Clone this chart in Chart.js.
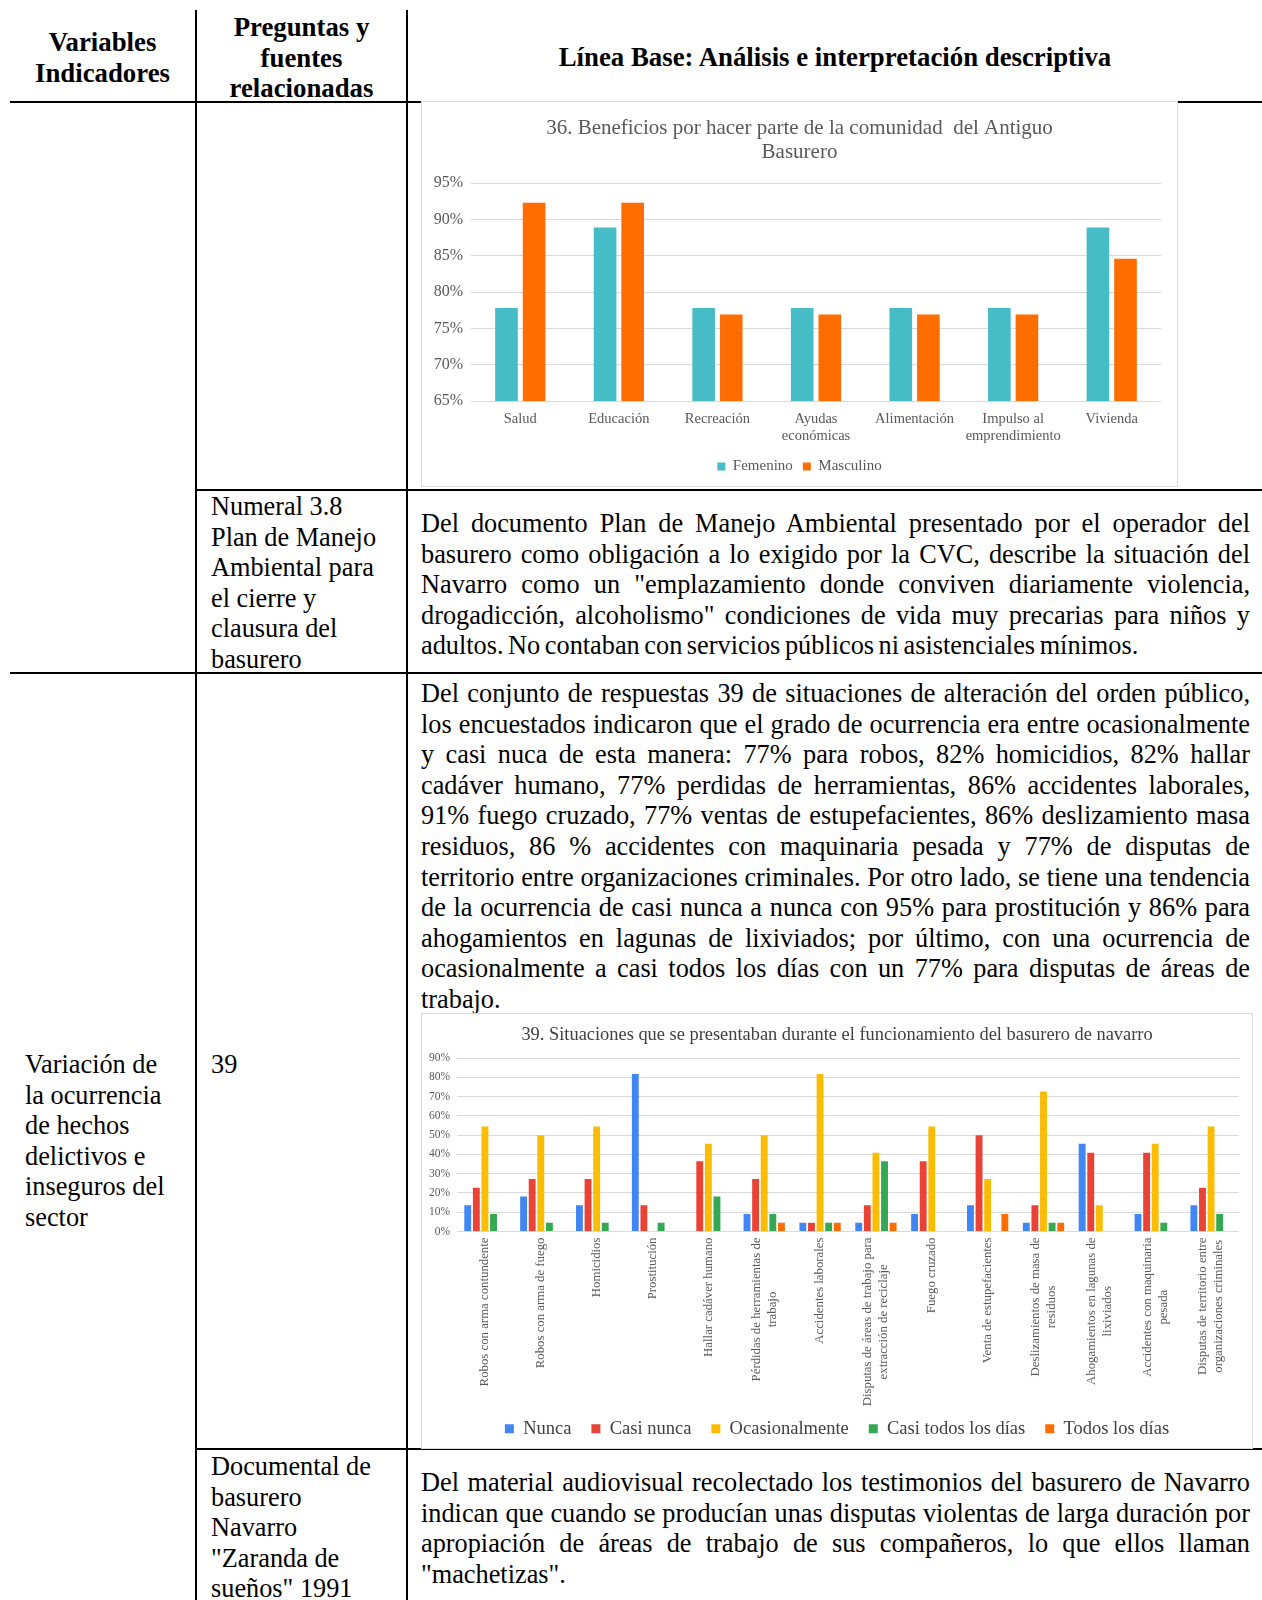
<!DOCTYPE html>
<html lang="es">
<head>
<meta charset="utf-8">
<title>Línea Base</title>
<script src="https://cdn.jsdelivr.net/npm/chart.js@4.4.1/dist/chart.umd.min.js"></script>
<style>
  body { margin: 0; width: 1262px; height: 1600px; position: relative; overflow: hidden; background: #fff;
         font-family: "Liberation Serif", "Times New Roman", serif; color: #000; }
  .hl { position: absolute; height: 2px; background: #000; }
  .vl { position: absolute; width: 2px; background: #000; }
  .txt { position: absolute; font-size: 26.3px; line-height: 30.6px; }
  .hd { font-weight: bold; text-align: center; font-size: 26.8px; }
  .par { position: absolute; left: 421px; width: 829px; font-size: 26.3px; line-height: 30.6px; }
  .par div { text-align: justify; text-align-last: justify; }
  .par div.last { text-align-last: left; }
  .box { position: absolute; background: #fff; border: 1px solid #d9d9d9; }
  canvas { display: block; }
</style>
</head>
<body>

<!-- table rules -->
<div class="vl" style="left:195px; top:10px; height:1590px"></div>
<div class="vl" style="left:406px; top:10px; height:1590px"></div>
<div class="hl" style="left:10px; top:101px; width:1252px"></div>
<div class="hl" style="left:195px; top:489px; width:1067px"></div>
<div class="hl" style="left:10px; top:672px; width:1252px"></div>
<div class="hl" style="left:195px; top:1448px; width:1067px"></div>

<!-- header -->
<div class="txt hd" style="left:10px; width:185px; top:27px">Variables<br>Indicadores</div>
<div class="txt hd" style="left:197px; width:209px; top:12px">Preguntas y<br>fuentes<br>relacionadas</div>
<div class="txt hd" style="left:408px; width:854px; top:42px">Línea Base: Análisis e interpretación descriptiva</div>

<!-- chart 36 -->
<div class="box" style="left:421px; top:101px; width:755px; height:384px">
  <canvas id="beneficios" width="755" height="384"></canvas>
</div>

<!-- row: Numeral 3.8 -->
<div class="txt" style="left:211px; top:492px">Numeral 3.8<br>Plan de Manejo<br>Ambiental para<br>el cierre y<br>clausura del<br>basurero</div>
<div class="par" style="top:509px">
  <div>Del documento Plan de Manejo Ambiental presentado por el operador del</div>
  <div>basurero como obligación a lo exigido por la CVC, describe la situación del</div>
  <div>Navarro como un "emplazamiento donde conviven diariamente violencia,</div>
  <div>drogadicción, alcoholismo" condiciones de vida muy precarias para niños y</div>
  <div class="last" style="word-spacing:-2px">adultos. No contaban con servicios públicos ni asistenciales mínimos.</div>
</div>

<!-- row: 39 -->
<div class="txt" style="left:25px; top:1050px">Variación de<br>la ocurrencia<br>de hechos<br>delictivos e<br>inseguros del<br>sector</div>
<div class="txt" style="left:211px; top:1050px">39</div>
<div class="par" style="top:679px">
  <div>Del conjunto de respuestas 39 de situaciones de alteración del orden público,</div>
  <div>los encuestados indicaron que el grado de ocurrencia era entre ocasionalmente</div>
  <div>y casi nuca de esta manera: 77% para robos, 82% homicidios, 82% hallar</div>
  <div>cadáver humano, 77% perdidas de herramientas, 86% accidentes laborales,</div>
  <div>91% fuego cruzado, 77% ventas de estupefacientes, 86% deslizamiento masa</div>
  <div>residuos, 86 % accidentes con maquinaria pesada y 77% de disputas de</div>
  <div>territorio entre organizaciones criminales. Por otro lado, se tiene una tendencia</div>
  <div>de la ocurrencia de casi nunca a nunca con 95% para prostitución y 86% para</div>
  <div>ahogamientos en lagunas de lixiviados; por último, con una ocurrencia de</div>
  <div>ocasionalmente a casi todos los días con un 77% para disputas de áreas de</div>
  <div class="last">trabajo.</div>
</div>

<!-- chart 39 -->
<div class="box" style="left:421px; top:1013px; width:830px; height:434px">
  <canvas id="situaciones" width="830" height="434"></canvas>
</div>

<!-- row: documental -->
<div class="txt" style="left:211px; top:1452px">Documental de<br>basurero<br>Navarro<br>"Zaranda de<br>sueños" 1991</div>
<div class="par" style="top:1468px">
  <div>Del material audiovisual recolectado los testimonios del basurero de Navarro</div>
  <div>indican que cuando se producían unas disputas violentas de larga duración por</div>
  <div>apropiación de áreas de trabajo de sus compañeros, lo que ellos llaman</div>
  <div class="last">"machetizas".</div>
</div>

<script>
// ===== Chart 36: beneficios =====
const beneficios = ["Salud", "Educación", "Recreación", ["Ayudas", "económicas"], "Alimentación", ["Impulso al", "emprendimiento"], "Vivienda"];
const femenino = [77.8, 88.9, 77.8, 77.8, 77.8, 77.8, 88.9];
const masculino = [92.3, 92.3, 76.9, 76.9, 76.9, 76.9, 84.6];
const beneficiosTicks = { min: 65, max: 95, step: 5 };

// ===== Chart 39: situaciones =====
const situaciones = [
    "Robos con arma contundente",
    "Robos con arma de fuego",
    "Homicidios",
    "Prostitución",
    "Hallar cadáver humano",
    ["Pérdidas de herramientas de", "trabajo"],
    "Accidentes laborales",
    ["Disputas de áreas de trabajo para", "extracción de reciclaje"],
    "Fuego cruzado",
    "Venta de estupefacientes",
    ["Deslizamientos de masa de", "residuos"],
    ["Ahogamientos en lagunas de", "lixiviados"],
    ["Accidentes con maquinaria", "pesada"],
    ["Disputas de territorio entre", "organizaciones criminales"]
];
const nunca          = [13.6, 18.2, 13.6, 81.8, 0, 9.1, 4.5, 4.5, 9.1, 13.6, 4.5, 45.5, 9.1, 13.6];
const casiNunca      = [22.7, 27.3, 27.3, 13.6, 36.4, 27.3, 4.5, 13.6, 36.4, 50, 13.6, 40.9, 40.9, 22.7];
const ocasionalmente = [54.5, 50, 54.5, 0, 45.5, 50, 81.8, 40.9, 54.5, 27.3, 72.7, 13.6, 45.5, 54.5];
const casiTodos      = [9.1, 4.5, 4.5, 4.5, 18.2, 9.1, 4.5, 36.4, 0, 0, 4.5, 0, 4.5, 9.1];
const todosLosDias   = [0, 0, 0, 0, 0, 4.5, 4.5, 4.5, 0, 9.1, 4.5, 0, 0, 0];
const situacionesTicks = { min: 0, max: 90, step: 10 };

const serif = "'Liberation Serif', 'Times New Roman', serif";
const grey = "#595959";
const gridGrey = "#d9d9d9";

// empty right-hand axis, keeps the title and legend centred on the whole box
const spacerAxis = w => ({
    position: "right",
    grid: { display: false, drawTicks: false },
    border: { display: false },
    ticks: { display: false },
    afterFit: s => { s.width = w; }
});

new Chart(document.getElementById("beneficios"), {
    type: "bar",
    data: {
        labels: beneficios,
        datasets: [
            { label: "Femenino", data: femenino, backgroundColor: "#46bdc6", categoryPercentage: 0.56, barPercentage: 0.82 },
            { label: "Masculino", data: masculino, backgroundColor: "#ff6d01", categoryPercentage: 0.56, barPercentage: 0.82 }
        ]
    },
    options: {
        responsive: false,
        animation: false,
        layout: { padding: { left: 0, right: 0, top: 0, bottom: 2 } },
        scales: {
            y: {
                min: beneficiosTicks.min,
                max: beneficiosTicks.max,
                ticks: { stepSize: beneficiosTicks.step, callback: v => v + "%", font: { family: serif, size: 16 }, color: grey, padding: 8 },
                grid: { color: gridGrey, drawTicks: false },
                border: { display: false },
                afterFit: s => { s.width = 49; }
            },
            pad: spacerAxis(16),
            x: {
                grid: { display: false, drawTicks: false },
                border: { display: false },
                ticks: { font: { family: serif, size: 14.5 }, color: grey, padding: 9, maxRotation: 0 },
                afterFit: s => { s.height = 48; }
            }
        },
        plugins: {
            title: {
                display: true,
                text: ["36. Beneficios por hacer parte de la comunidad  del Antiguo", "Basurero"],
                font: { family: serif, size: 21, weight: "normal", lineHeight: 1.17 },
                color: grey,
                padding: { top: 14, bottom: 18 }
            },
            legend: {
                position: "bottom",
                labels: { boxWidth: 8, boxHeight: 8, font: { family: serif, size: 15 }, color: grey, padding: 10 }
            },
            tooltip: { enabled: false }
        }
    }
});

// Draws the vertical category labels with centred lines
const verticalLabels = {
    id: "verticalLabels",
    afterDraw(chart) {
        const ctx = chart.ctx;
        const x = chart.scales.x;
        ctx.save();
        ctx.font = "12.8px " + serif;
        ctx.fillStyle = grey;
        ctx.textAlign = "center";
        ctx.textBaseline = "middle";
        situaciones.forEach((label, i) => {
            const lines = Array.isArray(label) ? label : [label];
            const w = Math.max(...lines.map(l => ctx.measureText(l).width));
            ctx.save();
            ctx.translate(x.getPixelForValue(i), x.top + 6 + w / 2);
            ctx.rotate(-Math.PI / 2);
            lines.forEach((l, j) => ctx.fillText(l, 0, (j - (lines.length - 1) / 2) * 16));
            ctx.restore();
        });
        ctx.restore();
    }
};

const barOpts = { categoryPercentage: 0.77, barPercentage: 0.8 };

new Chart(document.getElementById("situaciones"), {
    type: "bar",
    data: {
        labels: situaciones,
        datasets: [
            { label: "Nunca", data: nunca, backgroundColor: "#4285f4", ...barOpts },
            { label: "Casi nunca", data: casiNunca, backgroundColor: "#ea4335", ...barOpts },
            { label: "Ocasionalmente", data: ocasionalmente, backgroundColor: "#fbbc04", ...barOpts },
            { label: "Casi todos los días", data: casiTodos, backgroundColor: "#34a853", ...barOpts },
            { label: "Todos los días", data: todosLosDias, backgroundColor: "#ff6d01", ...barOpts }
        ]
    },
    plugins: [verticalLabels],
    options: {
        responsive: false,
        animation: false,
        layout: { padding: { left: 0, right: 0, top: 0, bottom: 0 } },
        scales: {
            y: {
                min: situacionesTicks.min,
                max: situacionesTicks.max,
                ticks: { stepSize: situacionesTicks.step, callback: v => v + "%", font: { family: serif, size: 11.5 }, color: grey, padding: 7 },
                grid: { color: gridGrey, drawTicks: false },
                border: { display: false },
                afterFit: s => { s.width = 35; }
            },
            pad: spacerAxis(13),
            x: {
                grid: { display: false, drawTicks: false },
                border: { display: false },
                ticks: { display: false },
                afterFit: s => { s.height = 168; }
            }
        },
        plugins: {
            title: {
                display: true,
                text: "39. Situaciones que se presentaban durante el funcionamiento del basurero de navarro",
                font: { family: serif, size: 18.4, weight: "normal", lineHeight: 1.2 },
                color: "#404040",
                padding: { top: 10, bottom: 12 }
            },
            legend: {
                position: "bottom",
                labels: { boxWidth: 9, boxHeight: 9, font: { family: serif, size: 18.5 }, color: "#404040", padding: 20 }
            },
            tooltip: { enabled: false }
        }
    }
});
</script>
</body>
</html>
